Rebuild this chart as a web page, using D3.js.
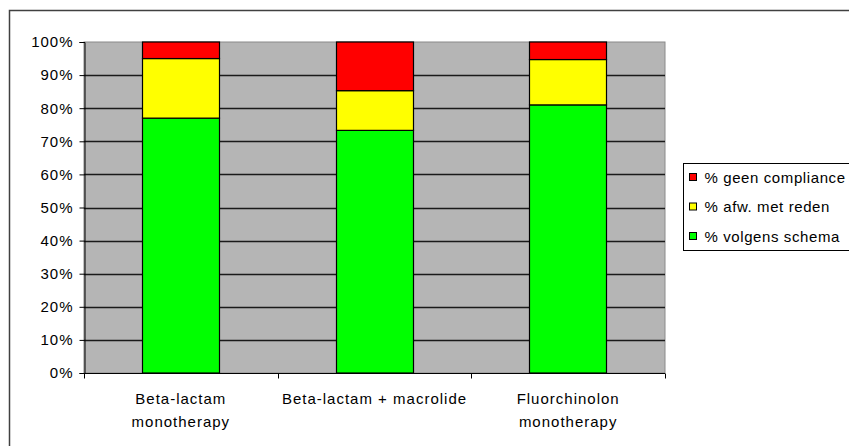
<!DOCTYPE html>
<html>
<head>
<meta charset="utf-8">
<script src="https://cdn.jsdelivr.net/npm/d3@7"></script>
<style>
  html, body { margin: 0; padding: 0; background: #fff; }
  svg { display: block; }
  text { font-family: "Liberation Sans", Arial, sans-serif; fill: #000; letter-spacing: 1px; }
  .legend text { letter-spacing: 0.6px; }
</style>
</head>
<body>
<svg id="chart" width="849" height="446"></svg>
<script>
// Compliance per antibiotic regimen (stacked to 100%)
const categories = [
  ["Beta-lactam", "monotherapy"],
  ["Beta-lactam + macrolide"],
  ["Fluorchinolon", "monotherapy"]
];
const volgensSchema = [77.0, 73.3, 81.0];
const afwMetReden   = [18.0, 12.0, 13.7];
const geenCompliance = [5.0, 14.7, 5.3];
const seriesNames = ["% volgens schema", "% afw. met reden", "% geen compliance"];
const seriesColors = ["#00ff00", "#ffff00", "#ff0000"];
const yTicks = [0, 10, 20, 30, 40, 50, 60, 70, 80, 90, 100];

const svg = d3.select("#chart");
const plot = { left: 84, right: 665, top: 42, bottom: 373 };
const fontSize = 15;

// outer chart frame
svg.append("rect")
  .attr("x", 9.5).attr("y", 10.5)
  .attr("width", 900).attr("height", 500)
  .attr("fill", "#fff").attr("stroke", "#404040").attr("stroke-width", 1.5);

const x = d3.scaleBand()
  .domain(d3.range(categories.length))
  .range([plot.left, plot.right])
  .paddingInner(0.6).paddingOuter(0.3);
const y = d3.scaleLinear().domain([0, 100]).range([plot.bottom, plot.top]);

// plot background
svg.append("rect")
  .attr("x", plot.left).attr("y", plot.top)
  .attr("width", plot.right - plot.left).attr("height", plot.bottom - plot.top)
  .attr("fill", "#b5b5b5").attr("stroke", "#8a8a8a").attr("stroke-width", 1);

// gridlines
svg.append("g").selectAll("line")
  .data(yTicks.filter(t => t > 0 && t < 100))
  .join("line")
  .attr("x1", plot.left).attr("x2", plot.right)
  .attr("y1", d => Math.round(y(d)) + 0.5).attr("y2", d => Math.round(y(d)) + 0.5)
  .attr("stroke", "#1a1a1a").attr("stroke-width", 1.4);

// stacked bars
const rows = categories.map((c, i) => ({
  i, volgens: volgensSchema[i], afw: afwMetReden[i], geen: geenCompliance[i]
}));
const stack = d3.stack().keys(["volgens", "afw", "geen"])(rows);
svg.append("g").selectAll("g")
  .data(stack)
  .join("g")
  .attr("fill", (d, k) => seriesColors[k])
  .selectAll("rect")
  .data(d => d)
  .join("rect")
  .attr("x", d => Math.round(x(d.data.i)) + 0.5)
  .attr("width", Math.round(x.bandwidth()))
  .attr("y", d => y(d[1]))
  .attr("height", d => y(d[0]) - y(d[1]))
  .attr("stroke", "#000").attr("stroke-width", 1.2);

// y axis
const yAxis = d3.axisLeft(y).tickValues(yTicks).tickFormat(d => d + "%").tickSize(5).tickPadding(6);
const gy = svg.append("g").attr("transform", `translate(${plot.left + 0.5},0)`).call(yAxis);
gy.select(".domain").attr("stroke", "#000");
gy.selectAll(".tick line").attr("stroke", "#000");
gy.selectAll("text").attr("font-size", fontSize).attr("fill", "#000")
  .style("font-family", "'Liberation Sans', Arial, sans-serif");

// x axis with ticks at category boundaries
const xb = d3.scaleLinear().domain([0, categories.length]).range([plot.left, plot.right]);
const gx = svg.append("g").attr("transform", `translate(0,${plot.bottom + 0.5})`);
gx.append("line").attr("x1", plot.left).attr("x2", plot.right).attr("stroke", "#000");
gx.selectAll(".tk").data(d3.range(categories.length + 1)).join("line")
  .attr("class", "tk")
  .attr("x1", d => Math.round(xb(d)) + 0.5).attr("x2", d => Math.round(xb(d)) + 0.5)
  .attr("y1", 0).attr("y2", 5).attr("stroke", "#000");
gx.selectAll(".lbl").data(categories).join("text")
  .attr("class", "lbl")
  .attr("text-anchor", "middle")
  .attr("font-size", fontSize)
  .attr("x", (d, i) => xb(i + 0.5))
  .selectAll("tspan").data(d => d).join("tspan")
  .attr("x", function () { return d3.select(this.parentNode).attr("x"); })
  .attr("y", (d, j) => 30 + j * 23)
  .text(d => d);

// legend
const legend = svg.append("g").attr("class", "legend").attr("transform", "translate(683.5,163.5)");
legend.append("rect").attr("width", 220).attr("height", 87)
  .attr("fill", "#fff").attr("stroke", "#000");
const legendItems = [2, 1, 0];
legend.selectAll("g.item").data(legendItems).join("g")
  .attr("class", "item")
  .attr("transform", (d, j) => `translate(0,${14 + j * 29.5})`)
  .each(function (k) {
    const g = d3.select(this);
    g.append("rect").attr("x", 6).attr("y", -4).attr("width", 7).attr("height", 7)
      .attr("fill", seriesColors[k]).attr("stroke", "#000");
    g.append("text").attr("x", 21).attr("y", 5).attr("font-size", fontSize)
      .text(seriesNames[k]);
  });
</script>
</body>
</html>
